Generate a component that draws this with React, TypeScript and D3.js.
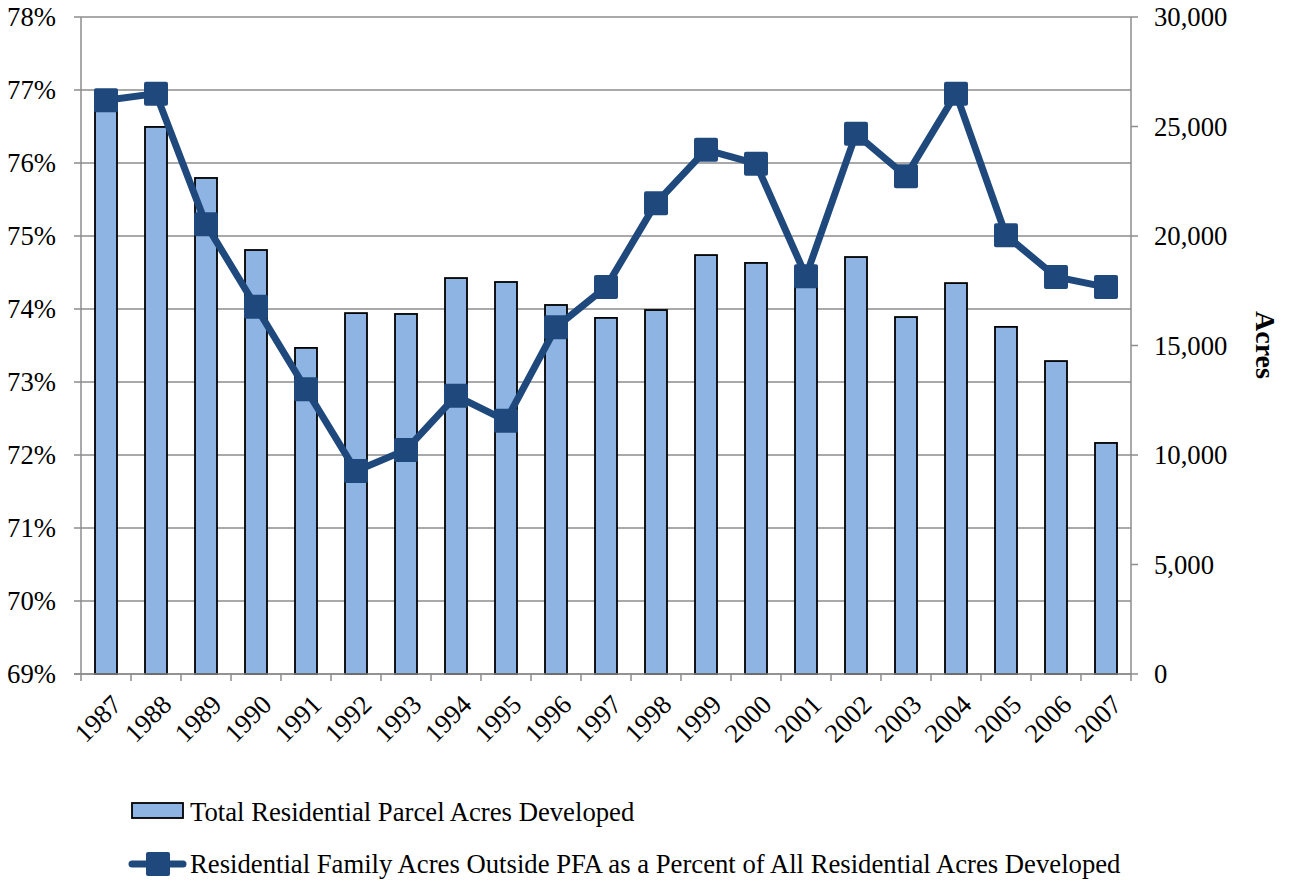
import React from 'react';
import * as d3 from 'd3';

const YEARS = ['1987', '1988', '1989', '1990', '1991', '1992', '1993', '1994', '1995', '1996', '1997',
  '1998', '1999', '2000', '2001', '2002', '2003', '2004', '2005', '2006', '2007'];
const TOTAL_ACRES = [26000, 24980, 22650, 19360, 14890, 16480, 16440, 18080, 17900, 16850, 16260,
  16620, 19130, 18770, 18400, 19040, 16300, 17850, 15850, 14290, 10550];
const PCT_OUTSIDE = [76.86, 76.95, 75.16, 74.03, 72.90, 71.78, 72.07, 72.81, 72.47, 73.75, 74.30,
  75.45, 76.18, 75.99, 74.45, 76.40, 75.82, 76.95, 75.01, 74.44, 74.30];
const LEFT_TICKS = [69, 70, 71, 72, 73, 74, 75, 76, 77, 78];
const RIGHT_TICKS = [0, 5000, 10000, 15000, 20000, 25000, 30000];

const W = 1293;
const H = 880;
const M = { left: 81, right: 1131, top: 17, bottom: 674 };
const FONT = "'Liberation Serif', 'Times New Roman', serif";
const FS = 26.7;
const BAR_FILL = '#8DB4E2';
const LINE_COLOR = '#1F497D';
const GRID = '#8c8c8c';

export default function App() {
  const x = d3.scaleBand<string>().domain(YEARS).range([M.left, M.right]);
  const yL = d3.scaleLinear().domain([69, 78]).range([M.bottom, M.top]);
  const yR = d3.scaleLinear().domain([0, 30000]).range([M.bottom, M.top]);
  const barW = 22;
  const mk = 24;

  const line = d3.line<number>()
    .x((_, i) => x(YEARS[i])! + x.bandwidth() / 2)
    .y(d => yL(d));

  return (
    <svg width={W} height={H} style={{ position: 'absolute', left: 0, top: 0 }} fontFamily={FONT}>
      {LEFT_TICKS.map(t => (
        <g key={t}>
          <line x1={M.left - 7} x2={M.right} y1={yL(t)} y2={yL(t)} stroke={GRID} strokeWidth={1.5} />
          <text x={56} y={yL(t)} dy="0.35em" textAnchor="end" fontSize={FS}>{t}%</text>
        </g>
      ))}
      {RIGHT_TICKS.map(t => (
        <g key={t}>
          <line x1={M.right} x2={M.right + 7} y1={yR(t)} y2={yR(t)} stroke={GRID} strokeWidth={1.5} />
          <text x={1154} y={yR(t)} dy="0.35em" textAnchor="start" fontSize={FS}>{d3.format(',')(t)}</text>
        </g>
      ))}
      <line x1={M.left} x2={M.left} y1={M.top} y2={M.bottom} stroke={GRID} strokeWidth={1.5} />
      <line x1={M.right} x2={M.right} y1={M.top} y2={M.bottom} stroke={GRID} strokeWidth={1.5} />
      {YEARS.map(yr => (
        <line key={'t' + yr} x1={x(yr)!} x2={x(yr)!} y1={M.bottom} y2={M.bottom + 7} stroke={GRID} strokeWidth={1.5} />
      ))}
      <line x1={M.right} x2={M.right} y1={M.bottom} y2={M.bottom + 7} stroke={GRID} strokeWidth={1.5} />

      {YEARS.map((yr, i) => (
        <rect key={'b' + yr} x={x(yr)! + x.bandwidth() / 2 - barW / 2} y={yR(TOTAL_ACRES[i])}
          width={barW} height={M.bottom - yR(TOTAL_ACRES[i])}
          fill={BAR_FILL} stroke="#000" strokeWidth={1.8} />
      ))}
      <line x1={M.left - 7} x2={M.right} y1={M.bottom} y2={M.bottom} stroke={GRID} strokeWidth={1.5} />

      <path d={line(PCT_OUTSIDE)!} fill="none" stroke={LINE_COLOR} strokeWidth={7} strokeLinejoin="round" />
      {PCT_OUTSIDE.map((v, i) => (
        <rect key={'m' + i} x={x(YEARS[i])! + x.bandwidth() / 2 - mk / 2} y={yL(v) - mk / 2}
          width={mk} height={mk} rx={2} fill={LINE_COLOR} />
      ))}

      {YEARS.map(yr => {
        const cx = x(yr)! + x.bandwidth() / 2 + 4;
        const cy = 693;
        return (
          <text key={'l' + yr} x={cx} y={cy} textAnchor="end" fontSize={FS} dy="0.7em"
            transform={`rotate(-45, ${cx}, ${cy})`}>{yr}</text>
        );
      })}

      <text transform="translate(1256, 345) rotate(90)" textAnchor="middle" fontSize={28} fontWeight="bold">Acres</text>

      <rect x={132} y={803} width={51} height={15} fill={BAR_FILL} stroke="#000" strokeWidth={1.8} />
      <text x={190} y={821} fontSize={FS}>Total Residential Parcel Acres Developed</text>
      <line x1={132} x2={183} y1={864} y2={864} stroke={LINE_COLOR} strokeWidth={7} strokeLinecap="round" />
      <rect x={146} y={852} width={24} height={24} rx={2} fill={LINE_COLOR} />
      <text x={190} y={873} fontSize={FS}>Residential Family Acres Outside PFA as a Percent of All Residential Acres Developed</text>
    </svg>
  );
}
